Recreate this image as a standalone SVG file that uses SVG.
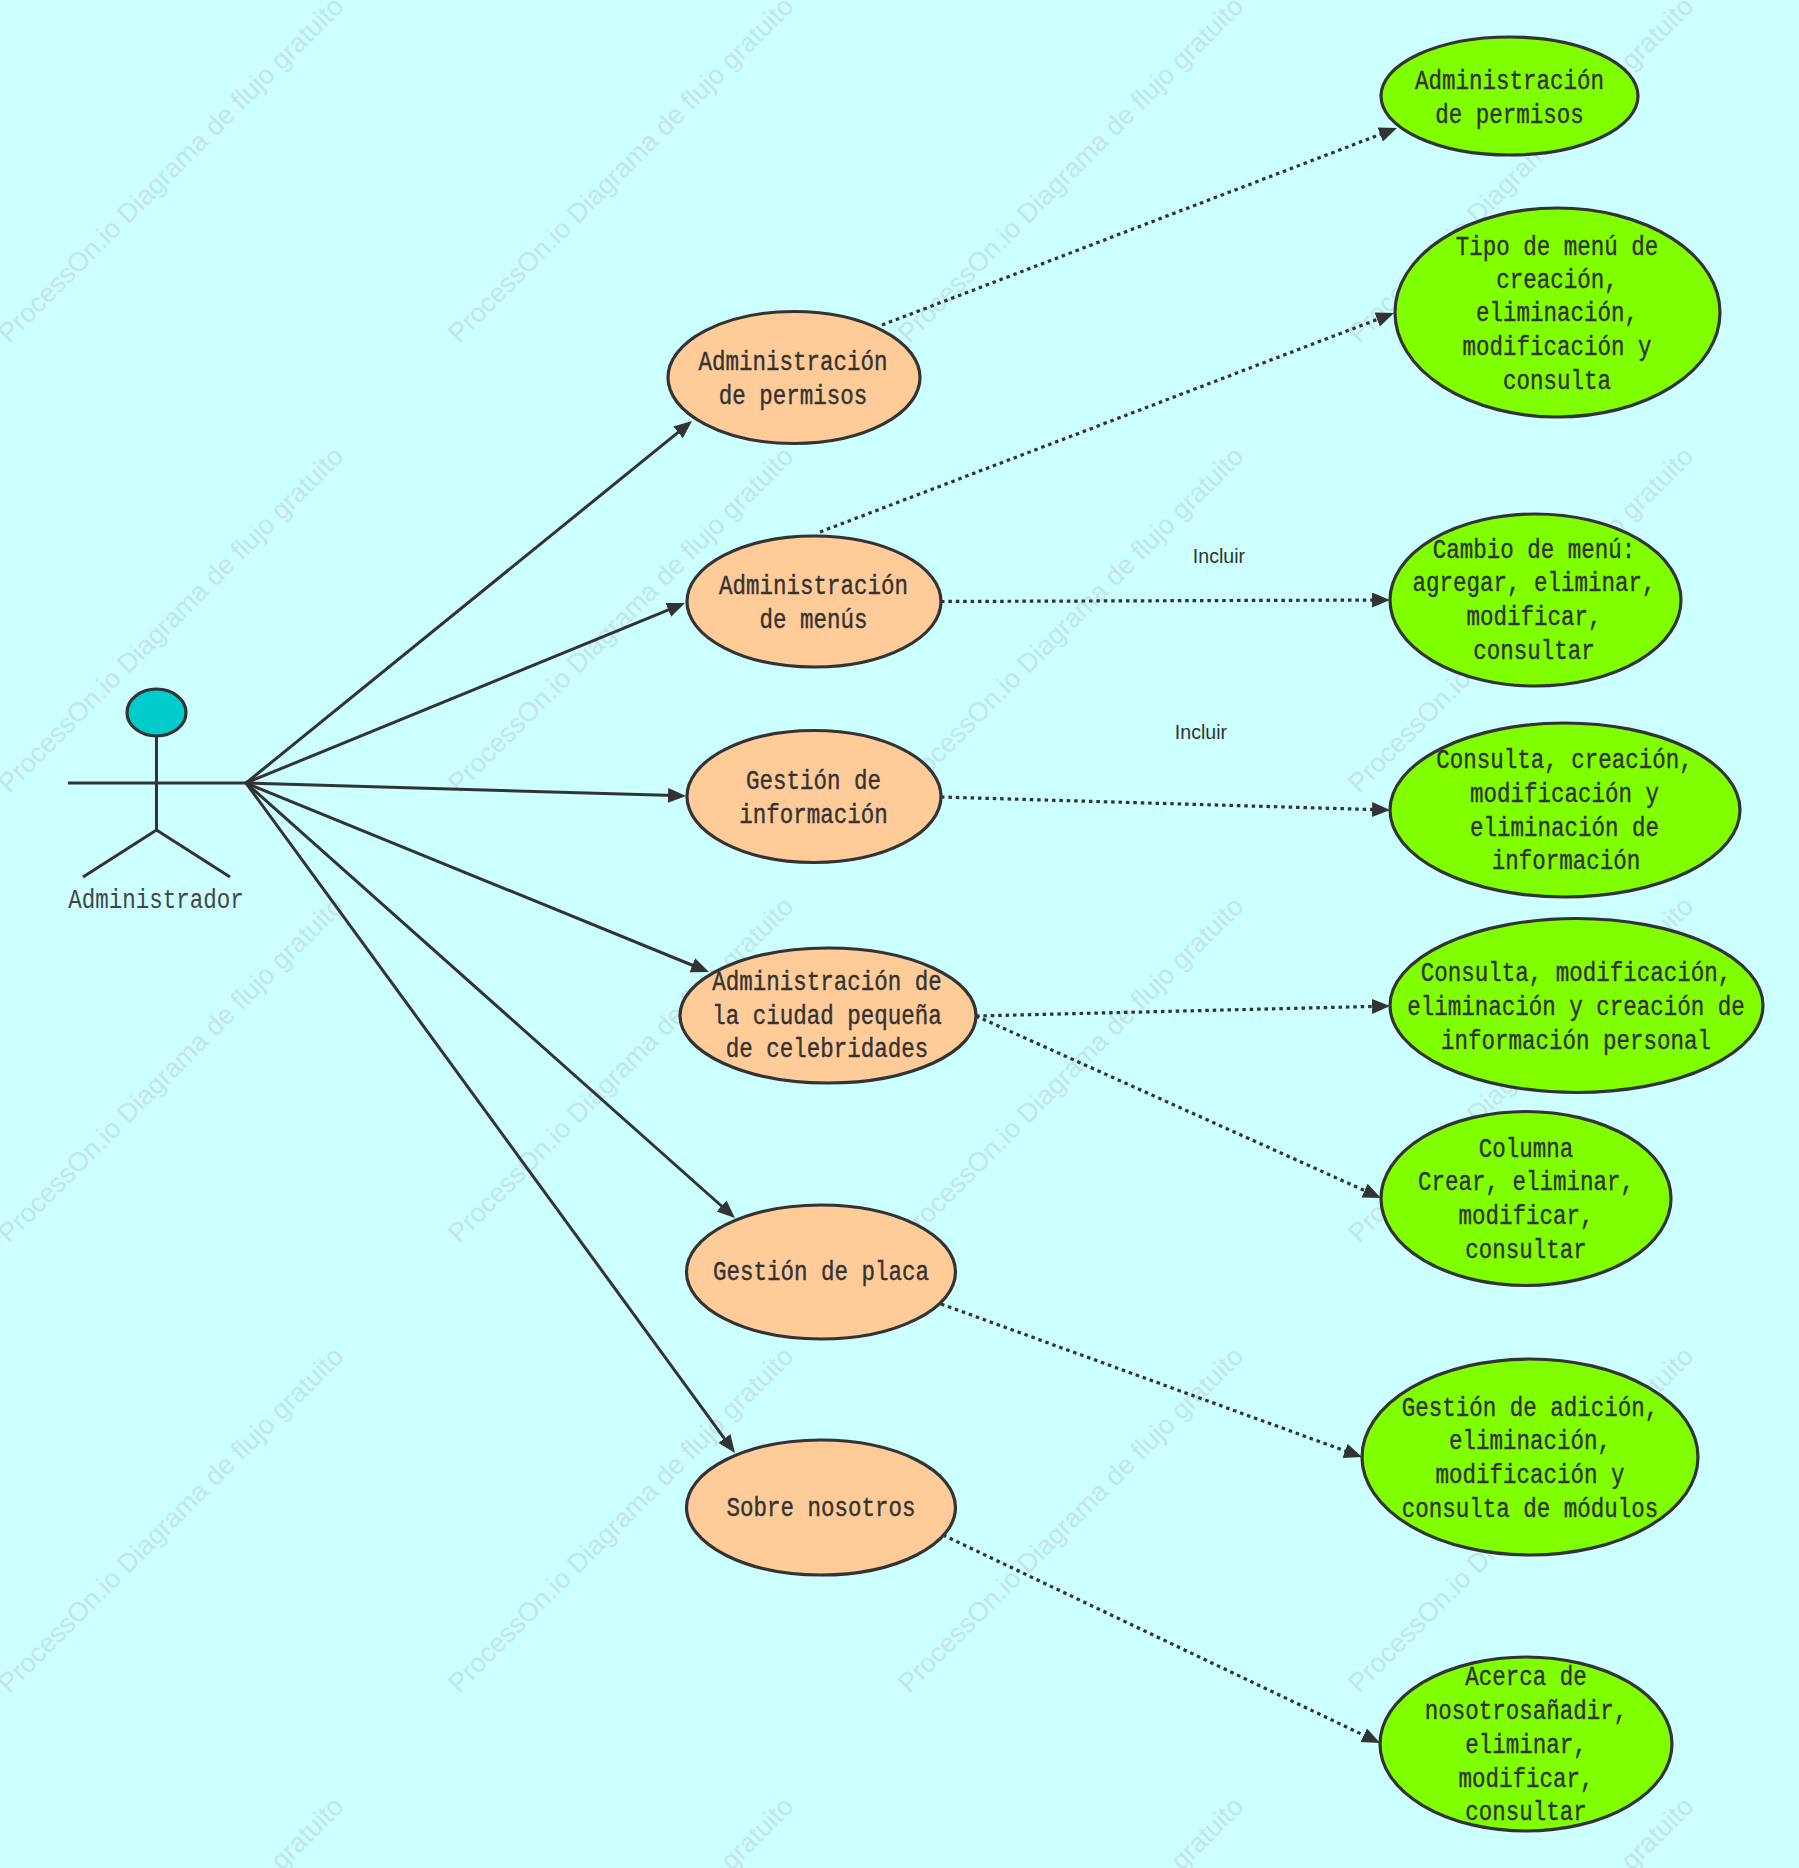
<svg xmlns="http://www.w3.org/2000/svg" width="1799" height="1868" viewBox="0 0 1799 1868">
<defs>
<style>
.bg{fill:#ccffff}
.wm{font-family:"Liberation Sans",Arial,sans-serif;font-size:26.8px;fill:#c3e5e8}
.s{stroke:#333;stroke-width:3;fill:none}
.o{fill:#ffcc99;stroke:#333;stroke-width:3.2}
.g{fill:#80ff00;stroke:#333;stroke-width:3.2}
.h{fill:#00cccc;stroke:#333;stroke-width:3.2}
.t{font-family:"Liberation Mono","Noto Sans CJK SC",monospace;font-size:27px;fill:#333;stroke:#333;stroke-width:.4;text-anchor:middle;transform:translateY(1px)}
.a{font-family:"Liberation Mono","Noto Sans CJK SC",monospace;font-size:27px;fill:#444;text-anchor:middle}
.l{font-family:"Liberation Sans",Arial,sans-serif;font-size:19.6px;fill:#333;text-anchor:middle}
.c{stroke:#333;stroke-width:3;fill:none;marker-end:url(#ar)}
.d{stroke:#333;stroke-width:3.2;fill:none;stroke-dasharray:3.5 3.9;marker-end:url(#ar)}
</style>
<marker id="ar" markerUnits="userSpaceOnUse" markerWidth="20" markerHeight="16" refX="6" refY="7.5" orient="auto"><path d="M0 0L18 7.5L0 15z" fill="#333"/></marker>
</defs>
<rect class="bg" width="1799" height="1868"/>
<g id="watermarks">
<text class="wm" transform="translate(9 344) rotate(-45)">ProcessOn.io Diagrama de flujo gratuito</text>
<text class="wm" transform="translate(459 344) rotate(-45)">ProcessOn.io Diagrama de flujo gratuito</text>
<text class="wm" transform="translate(909 344) rotate(-45)">ProcessOn.io Diagrama de flujo gratuito</text>
<text class="wm" transform="translate(1359 344) rotate(-45)">ProcessOn.io Diagrama de flujo gratuito</text>
<text class="wm" transform="translate(9 794) rotate(-45)">ProcessOn.io Diagrama de flujo gratuito</text>
<text class="wm" transform="translate(459 794) rotate(-45)">ProcessOn.io Diagrama de flujo gratuito</text>
<text class="wm" transform="translate(909 794) rotate(-45)">ProcessOn.io Diagrama de flujo gratuito</text>
<text class="wm" transform="translate(1359 794) rotate(-45)">ProcessOn.io Diagrama de flujo gratuito</text>
<text class="wm" transform="translate(9 1244) rotate(-45)">ProcessOn.io Diagrama de flujo gratuito</text>
<text class="wm" transform="translate(459 1244) rotate(-45)">ProcessOn.io Diagrama de flujo gratuito</text>
<text class="wm" transform="translate(909 1244) rotate(-45)">ProcessOn.io Diagrama de flujo gratuito</text>
<text class="wm" transform="translate(1359 1244) rotate(-45)">ProcessOn.io Diagrama de flujo gratuito</text>
<text class="wm" transform="translate(9 1694) rotate(-45)">ProcessOn.io Diagrama de flujo gratuito</text>
<text class="wm" transform="translate(459 1694) rotate(-45)">ProcessOn.io Diagrama de flujo gratuito</text>
<text class="wm" transform="translate(909 1694) rotate(-45)">ProcessOn.io Diagrama de flujo gratuito</text>
<text class="wm" transform="translate(1359 1694) rotate(-45)">ProcessOn.io Diagrama de flujo gratuito</text>
<text class="wm" transform="translate(9 2144) rotate(-45)">ProcessOn.io Diagrama de flujo gratuito</text>
<text class="wm" transform="translate(459 2144) rotate(-45)">ProcessOn.io Diagrama de flujo gratuito</text>
<text class="wm" transform="translate(909 2144) rotate(-45)">ProcessOn.io Diagrama de flujo gratuito</text>
<text class="wm" transform="translate(1359 2144) rotate(-45)">ProcessOn.io Diagrama de flujo gratuito</text>
</g>
<g id="connectors">
<path class="c" d="M246 783L682.7 428.6"/>
<path class="c" d="M246 783L673.9 607.6"/>
<path class="c" d="M246 783L674 795.6"/>
<path class="c" d="M246 783L697.9 967.5"/>
<path class="c" d="M246 783L726 1210"/>
<path class="c" d="M246 783L727.9 1443.3"/>
<path class="d" d="M882 325L1385.8 132.3"/>
<path class="d" d="M820 532L1382.8 317.3"/>
<path class="d" d="M941 601.5L1378 600"/>
<path class="d" d="M941 797L1378 809.7"/>
<path class="d" d="M976 1016L1378 1006.3"/>
<path class="d" d="M976 1016L1370 1193"/>
<path class="d" d="M941 1304L1350.7 1452.9"/>
<path class="d" d="M943 1535L1369.2 1737.8"/>
</g>
<g id="actor">
<ellipse class="h" cx="156.5" cy="712.5" rx="29.5" ry="23.5"/>
<path class="s" d="M156.5 736V830M68 783H246M83 877L156.5 830L230 877"/>
<text class="a" x="156" y="908" textLength="175.5" lengthAdjust="spacingAndGlyphs">Administrador</text>
</g>
<g id="label-incluir-1"><text class="l" x="1219" y="563">Incluir</text></g>
<g id="label-incluir-2"><text class="l" x="1201" y="739">Incluir</text></g>
<g id="uc-permisos"><ellipse class="o" cx="794" cy="377.5" rx="126" ry="66"/>
<text class="t" x="793" y="369" textLength="189" lengthAdjust="spacingAndGlyphs">Administración</text><text class="t" x="793" y="403" textLength="148.5" lengthAdjust="spacingAndGlyphs">de permisos</text></g>
<g id="uc-menus"><ellipse class="o" cx="814" cy="601.5" rx="127" ry="65.5"/>
<text class="t" x="813.5" y="593" textLength="189" lengthAdjust="spacingAndGlyphs">Administración</text><text class="t" x="813.5" y="627" textLength="108" lengthAdjust="spacingAndGlyphs">de menús</text></g>
<g id="uc-informacion"><ellipse class="o" cx="814" cy="796.5" rx="127" ry="66"/>
<text class="t" x="813.5" y="788" textLength="135" lengthAdjust="spacingAndGlyphs">Gestión de</text><text class="t" x="813.5" y="822" textLength="148.5" lengthAdjust="spacingAndGlyphs">información</text></g>
<g id="uc-ciudad"><ellipse class="o" cx="828" cy="1015.5" rx="148" ry="67.5"/>
<text class="t" x="827" y="989" textLength="229.5" lengthAdjust="spacingAndGlyphs">Administración de</text><text class="t" x="827" y="1023" textLength="229.5" lengthAdjust="spacingAndGlyphs">la ciudad pequeña</text><text class="t" x="827" y="1056" textLength="202.5" lengthAdjust="spacingAndGlyphs">de celebridades</text></g>
<g id="uc-placa"><ellipse class="o" cx="821" cy="1272" rx="134.5" ry="67"/>
<text class="t" x="821" y="1279" textLength="216" lengthAdjust="spacingAndGlyphs">Gestión de placa</text></g>
<g id="uc-nosotros"><ellipse class="o" cx="821" cy="1507.5" rx="134.5" ry="67.5"/>
<text class="t" x="821" y="1515" textLength="189" lengthAdjust="spacingAndGlyphs">Sobre nosotros</text></g>
<g id="d-permisos"><ellipse class="g" cx="1509.5" cy="96" rx="128.5" ry="59"/>
<text class="t" x="1509.5" y="88" textLength="189" lengthAdjust="spacingAndGlyphs">Administración</text><text class="t" x="1509.5" y="122" textLength="148.5" lengthAdjust="spacingAndGlyphs">de permisos</text></g>
<g id="d-tipo"><ellipse class="g" cx="1557.5" cy="312.5" rx="162.5" ry="104.5"/>
<text class="t" x="1557" y="254" textLength="202.5" lengthAdjust="spacingAndGlyphs">Tipo de menú de</text><text class="t" x="1557" y="287" textLength="121.5" lengthAdjust="spacingAndGlyphs">creación,</text><text class="t" x="1557" y="320" textLength="162" lengthAdjust="spacingAndGlyphs">eliminación,</text><text class="t" x="1557" y="354" textLength="189" lengthAdjust="spacingAndGlyphs">modificación y</text><text class="t" x="1557" y="388" textLength="108" lengthAdjust="spacingAndGlyphs">consulta</text></g>
<g id="d-cambio"><ellipse class="g" cx="1535.5" cy="600" rx="145.5" ry="86"/>
<text class="t" x="1534" y="557" textLength="202.5" lengthAdjust="spacingAndGlyphs">Cambio de menú:</text><text class="t" x="1534" y="590" textLength="243" lengthAdjust="spacingAndGlyphs">agregar, eliminar,</text><text class="t" x="1534" y="624" textLength="135" lengthAdjust="spacingAndGlyphs">modificar,</text><text class="t" x="1534" y="658" textLength="121.5" lengthAdjust="spacingAndGlyphs">consultar</text></g>
<g id="d-consulta"><ellipse class="g" cx="1565" cy="810" rx="175" ry="87"/>
<text class="t" x="1564.5" y="767" textLength="256.5" lengthAdjust="spacingAndGlyphs">Consulta, creación,</text><text class="t" x="1564.5" y="801" textLength="189" lengthAdjust="spacingAndGlyphs">modificación y</text><text class="t" x="1564.5" y="835" textLength="189" lengthAdjust="spacingAndGlyphs">eliminación de</text><text class="t" x="1566" y="868" textLength="148.5" lengthAdjust="spacingAndGlyphs">información</text></g>
<g id="d-personal"><ellipse class="g" cx="1576.5" cy="1005.5" rx="186.5" ry="87"/>
<text class="t" x="1576" y="980" textLength="310.5" lengthAdjust="spacingAndGlyphs">Consulta, modificación,</text><text class="t" x="1576" y="1014" textLength="337.5" lengthAdjust="spacingAndGlyphs">eliminación y creación de</text><text class="t" x="1576" y="1048" textLength="270" lengthAdjust="spacingAndGlyphs">información personal</text></g>
<g id="d-columna"><ellipse class="g" cx="1526" cy="1198.5" rx="145" ry="87"/>
<text class="t" x="1526" y="1156" textLength="94.5" lengthAdjust="spacingAndGlyphs">Columna</text><text class="t" x="1526" y="1189" textLength="216" lengthAdjust="spacingAndGlyphs">Crear, eliminar,</text><text class="t" x="1526" y="1223" textLength="135" lengthAdjust="spacingAndGlyphs">modificar,</text><text class="t" x="1526" y="1257" textLength="121.5" lengthAdjust="spacingAndGlyphs">consultar</text></g>
<g id="d-modulos"><ellipse class="g" cx="1530" cy="1457" rx="168" ry="98"/>
<text class="t" x="1530" y="1415" textLength="256.5" lengthAdjust="spacingAndGlyphs">Gestión de adición,</text><text class="t" x="1530" y="1448" textLength="162" lengthAdjust="spacingAndGlyphs">eliminación,</text><text class="t" x="1530" y="1482" textLength="189" lengthAdjust="spacingAndGlyphs">modificación y</text><text class="t" x="1530" y="1516" textLength="256.5" lengthAdjust="spacingAndGlyphs">consulta de módulos</text></g>
<g id="d-acerca"><ellipse class="g" cx="1526" cy="1744" rx="146" ry="87"/>
<text class="t" x="1526" y="1684" textLength="121.5" lengthAdjust="spacingAndGlyphs">Acerca de</text><text class="t" x="1526" y="1718" textLength="202.5" lengthAdjust="spacingAndGlyphs">nosotrosañadir,</text><text class="t" x="1526" y="1752" textLength="121.5" lengthAdjust="spacingAndGlyphs">eliminar,</text><text class="t" x="1526" y="1786" textLength="135" lengthAdjust="spacingAndGlyphs">modificar,</text><text class="t" x="1526" y="1819" textLength="121.5" lengthAdjust="spacingAndGlyphs">consultar</text></g>
</svg>
